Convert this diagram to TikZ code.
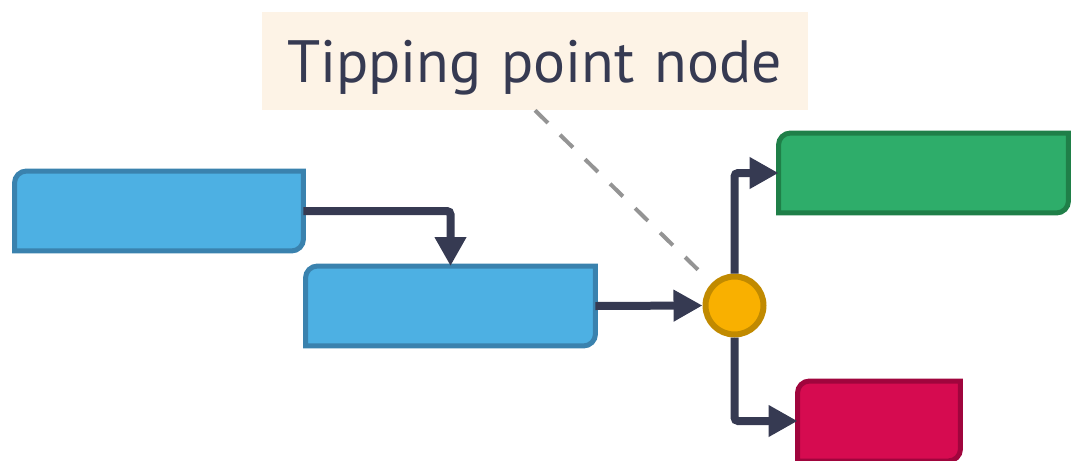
\documentclass[tikz,border=0pt]{standalone}
\usepackage{fontspec}
\setmainfont{PT Sans}
\usetikzlibrary{positioning,arrows.meta}
\definecolor{ink}{HTML}{363A52}
\definecolor{bluefill}{HTML}{4DB0E3}
\definecolor{blueline}{HTML}{3A82AE}
\definecolor{greenfill}{HTML}{2EAD6A}
\definecolor{greenline}{HTML}{1F7F48}
\definecolor{redfill}{HTML}{D60B50}
\definecolor{redline}{HTML}{A0053D}
\definecolor{tipfill}{HTML}{F9B000}
\definecolor{tipline}{HTML}{C18A00}
\definecolor{notefill}{HTML}{FDF3E6}
\tikzset{
  card/.style={minimum width=#1,minimum height=1.5cm,inner sep=0pt,outer sep=0.05cm},
  flow/.style={-{Triangle[length=0.58cm,width=0.6cm]},draw=ink,line width=0.16cm,
               rounded corners=2pt},
  lead/.style={draw=black!42,line width=0.08cm,dash pattern=on 0.36cm off 0.34cm,
               shorten >=0.32cm},
  tipnode/.style={circle,fill=tipfill,draw=tipline,line width=0.12cm,
                  minimum size=1.16cm,inner sep=0pt},
  note/.style={fill=notefill,text width=9.92cm,align=left,inner xsep=0.5cm,inner ysep=0pt,
               minimum height=1.96cm,text depth=0pt,
               font=\fontsize{34}{38}\selectfont,text=ink}
}

\begin{document}
\begin{tikzpicture}[x=0.02cm,y=-0.02cm]
  \useasboundingbox (0,0) rectangle (1071,460);

  \node[note] (note) at (535,61) {Tipping point node};

  \node[card=5.68cm] (srcA) at (159,211) {};
  \node[card=5.7cm] (srcB) at (450.5,306) {};
  \node[card=5.7cm] (upC) at (923.5,173) {};
  \node[card=3.16cm] (downD) at (879,421) {};
  \node[tipnode] (tip) at (734.5,305.5) {};

  % cards: rounded top-left and bottom-right corners only
  \foreach \n/\f/\l in {srcA/bluefill/blueline,srcB/bluefill/blueline,
                        upC/greenfill/greenline,downD/redfill/redline}
    \path[draw=\l,fill=\f,line width=0.1cm]
      (\n.west) [rounded corners=0.24cm] -- (\n.north west) -- (\n.north)
      [sharp corners] -- (\n.north east) -- (\n.east)
      [rounded corners=0.24cm] -- (\n.south east) -- (\n.south)
      [sharp corners] -- (\n.south west) -- cycle;

  \draw[lead] (note.south) -- (tip);

  \draw[flow] (srcA.east) -| (srcB.north);
  \draw[flow] (srcB.east) -- (tip.west);
  \draw[flow] (tip.north) |- (upC.west);
  \draw[flow] (tip.south) |- (downD.west);
\end{tikzpicture}
\end{document}
